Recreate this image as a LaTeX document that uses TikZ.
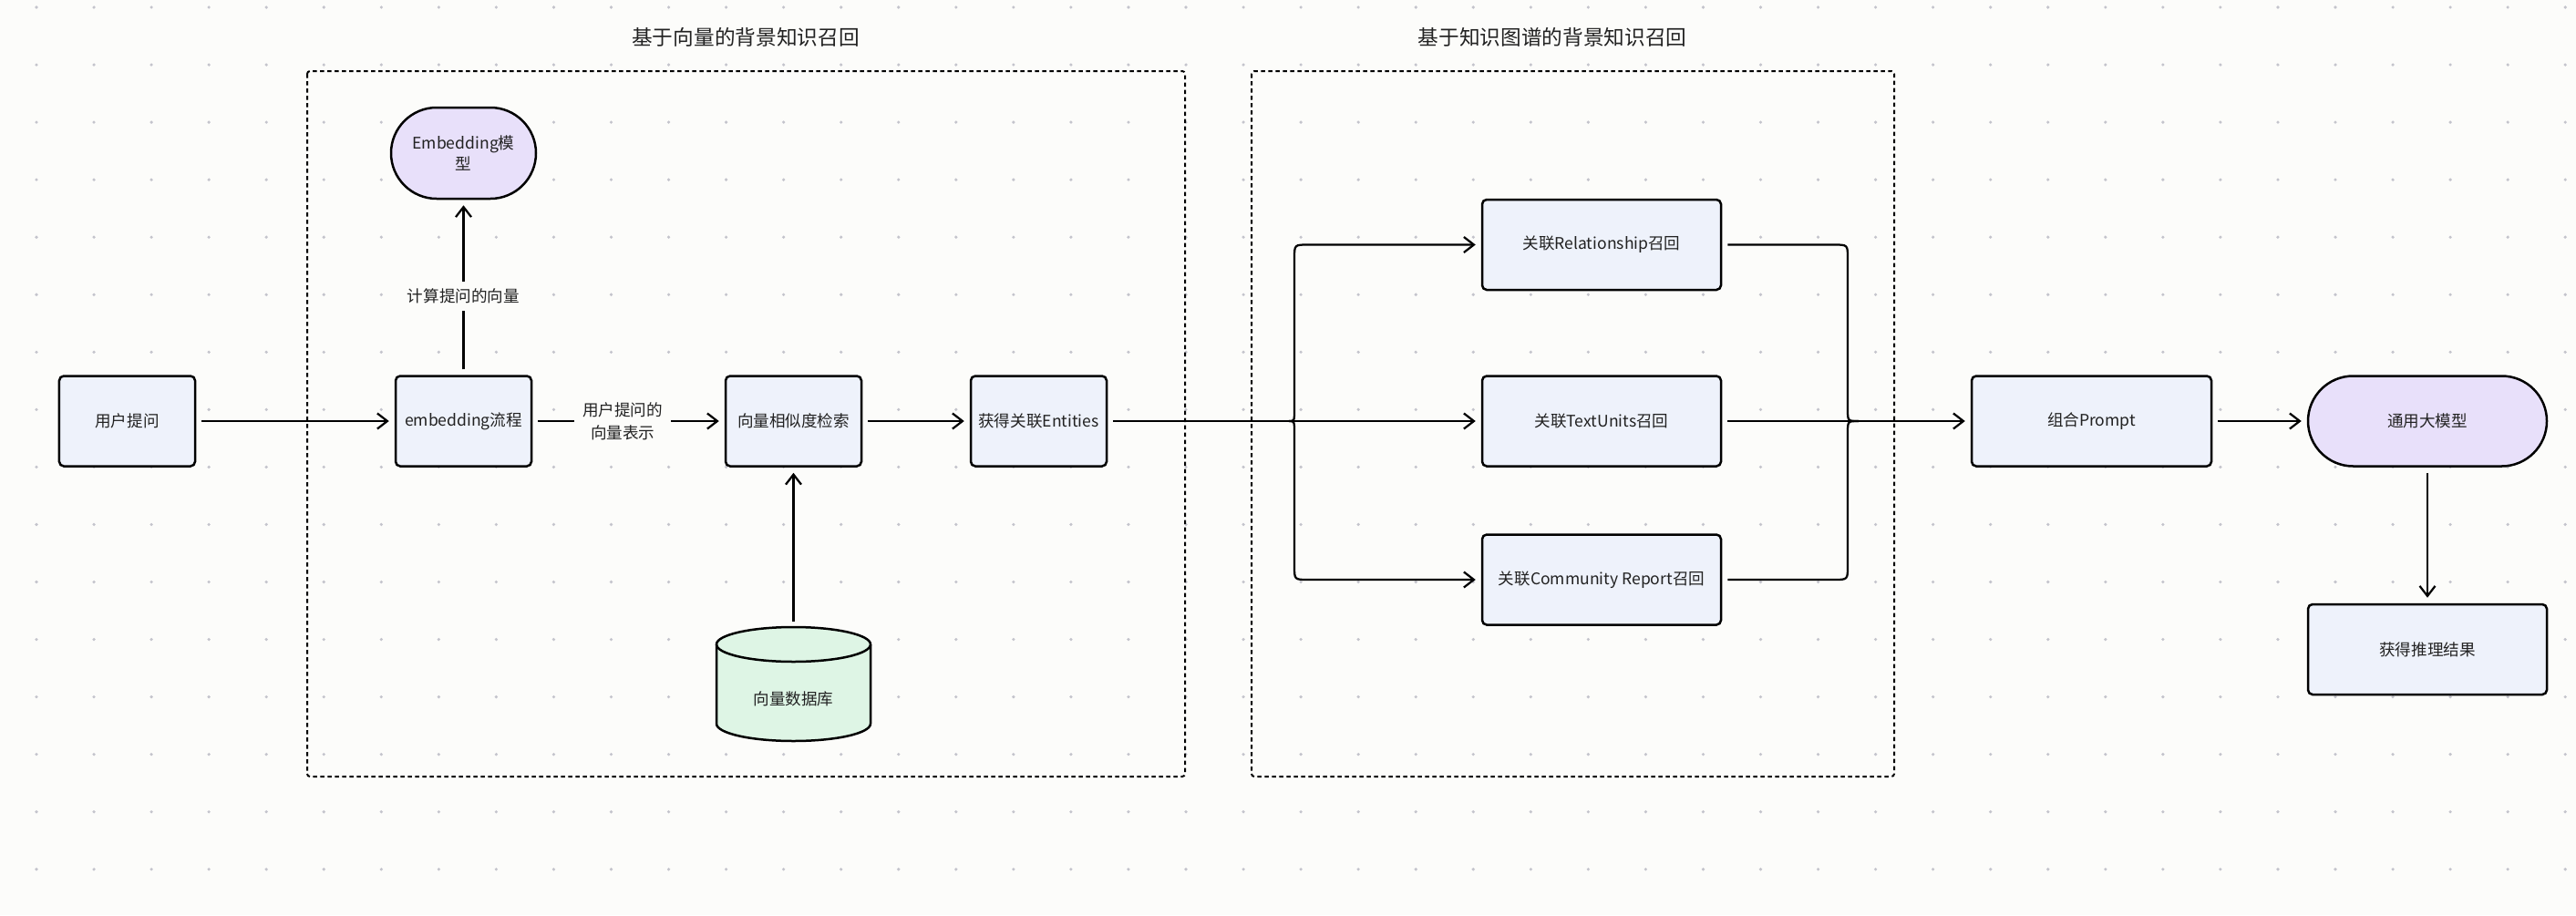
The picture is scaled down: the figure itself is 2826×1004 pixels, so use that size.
\documentclass[tikz,border=0pt]{standalone}
\usepackage{fontspec}
\setmainfont{Noto Sans CJK SC}
\usepackage{tikz}
\usetikzlibrary{arrows.meta}
\usepackage{xcolor}

\definecolor{bgc}{HTML}{FCFCFA}
\definecolor{dotc}{HTML}{C4C4CC}
\definecolor{boxfill}{HTML}{EEF2FB}
\definecolor{llmfill}{HTML}{E8E0FA}
\definecolor{dbfill}{HTML}{DEF5E5}
\definecolor{txtc}{HTML}{222222}

\tikzset{
    box/.style={draw, line width=0.5mm, rounded corners=1mm, fill=boxfill,
        minimum width=29.8mm, minimum height=19.8mm, font=\fontsize{10pt}{13pt}\selectfont,
        text=txtc, align=center, inner sep=1mm},
    widebox/.style={box, minimum width=52.4mm},
    pill/.style={box, fill=llmfill, rounded corners=9.9mm},
    arr/.style={-{Straight Barb[length=2.2mm,width=3.4mm]}, line width=0.45mm,
        shorten >=1.2mm, shorten <=1.2mm},
    conn/.style={line width=0.45mm, shorten <=1.2mm},
    lbl/.style={fill=bgc, inner xsep=1.8mm, inner ysep=1.6mm, text=txtc,
        font=\fontsize{10pt}{14pt}\selectfont, align=center},
    group/.style={line width=0.4mm, dash pattern=on 0.9mm off 0.7mm, rounded corners=0.6mm},
    title/.style={text=txtc, font=\fontsize{12.9pt}{15pt}\selectfont}
}

\begin{document}
\begin{tikzpicture}[x=0.2mm, y=-0.2mm]
    % Background and dot grid
    \fill[bgc] (0,0) rectangle (2826,1004);
    \useasboundingbox (0,0) rectangle (2826,1004);
    \foreach \i in {0,...,44}
        \foreach \j in {0,...,15}
            \fill[dotc] (40+63.05*\i, 8+63.05*\j) circle[radius=0.36mm];

    % Groups
    \draw[group] (337,78) rectangle (1300,852);
    \draw[group] (1373,78) rectangle (2078,852);
    \node[title] (t1) at (818,41) {基于向量的背景知识召回};
    \node[title] (t2) at (1703,41) {基于知识图谱的背景知识召回};

    % Vector recall
    \node[box] (q) at (139.5,462) {用户提问};
    \node[box] (emb) at (508.5,462) {embedding流程};
    \node[pill, minimum width=31.8mm, minimum height=20mm, rounded corners=10mm] (emod) at (508.5,168) {Embedding模\\型};
    \node[box] (sim) at (870.5,462) {向量相似度检索};
    \node[box] (ent) at (1139.5,462) {获得关联Entities};

    % Vector database
    \fill[dbfill] (786,707) -- (786,794) arc[start angle=180, end angle=360, x radius=16.9mm, y radius=3.8mm]
        -- (955,707) arc[start angle=0, end angle=180, x radius=16.9mm, y radius=3.8mm] -- cycle;
    \draw[line width=0.5mm] (786,707) -- (786,794) arc[start angle=180, end angle=360, x radius=16.9mm, y radius=3.8mm] -- (955,707);
    \draw[line width=0.5mm] (870.5,707) ellipse[x radius=16.9mm, y radius=3.8mm];
    \node[minimum width=33.8mm, minimum height=31.6mm, text=txtc, font=\fontsize{10pt}{13pt}\selectfont] (db) at (870.5,767) {向量数据库};

    % Graph recall
    \node[widebox] (rel) at (1757,268.5) {关联Relationship召回};
    \node[widebox] (txt) at (1757,462) {关联TextUnits召回};
    \node[widebox] (com) at (1757,636) {关联Community Report召回};
    \coordinate (cL) at (1408,462);
    \coordinate (cR) at (2039,462);

    % Answer
    \node[widebox, minimum width=52.6mm] (prm) at (2294.5,462) {组合Prompt};
    \node[pill, minimum width=52.4mm] (llm) at (2663,462) {通用大模型};
    \node[widebox] (res) at (2663,712.5) {获得推理结果};

    % Arrows
    \draw[arr] (q) -- (emb);
    \draw[arr] (emb) -- node[lbl, pos=0.47] {用户提问的\\向量表示} (sim);
    \draw[arr] (emb) -- node[lbl, pos=0.45] {计算提问的向量} (emod);
    \draw[arr] (db.north) -- (sim.south);
    \draw[arr] (sim) -- (ent);
    \draw[arr] (ent) -- (txt);
    \draw[arr] (cL) .. controls (1420,462) .. (1420,449) -- (1420,283.5)
        .. controls (1420,268.5) .. (1435,268.5) -- (rel.west);
    \draw[arr] (cL) .. controls (1420,462) .. (1420,475) -- (1420,621)
        .. controls (1420,636) .. (1435,636) -- (com.west);
    \draw[conn] (rel.east) -- (2012,268.5) .. controls (2027,268.5) .. (2027,283.5)
        -- (2027,449) .. controls (2027,462) .. (cR);
    \draw[conn] (com.east) -- (2012,636) .. controls (2027,636) .. (2027,621)
        -- (2027,475) .. controls (2027,462) .. (cR);
    \draw[arr] (txt) -- (prm);
    \draw[arr] (prm) -- (llm);
    \draw[arr] (llm) -- (res);
\end{tikzpicture}
\end{document}
